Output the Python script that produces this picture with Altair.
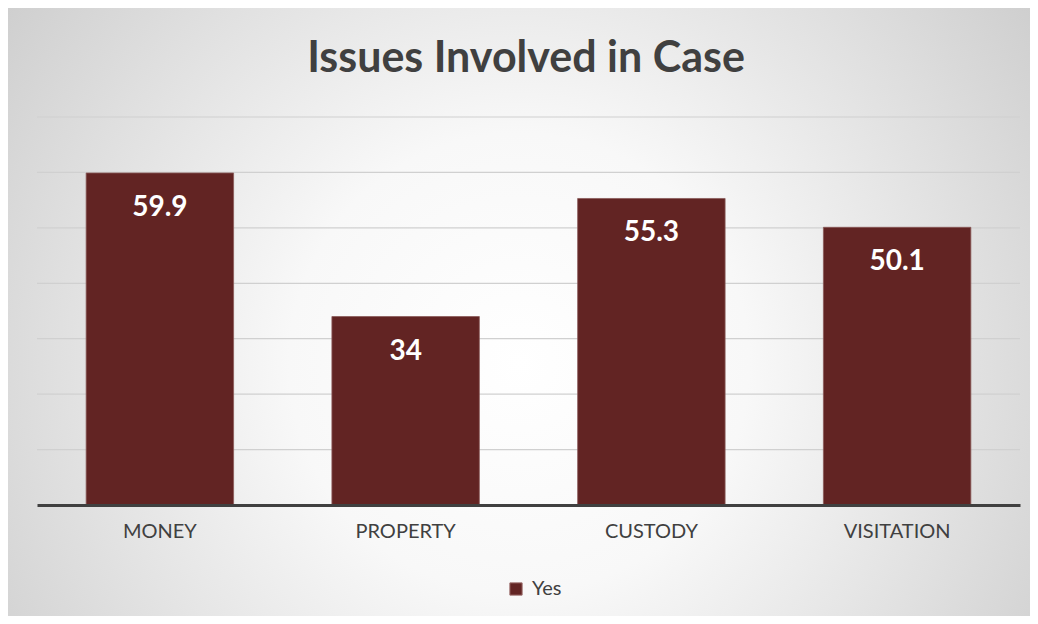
import altair as alt
import pandas as pd

title_text = ["Issues Involved in Case"]
categories = ["MONEY", "PROPERTY", "CUSTODY", "VISITATION"]
values = [59.9, 34, 55.3, 50.1]
series = ["Yes", "Yes", "Yes", "Yes"]
grid_values = [10, 20, 30, 40, 50, 60, 70]

W, H = 983, 388
PL, PT, PR, PB = 29, 109, 10, 111

df = pd.DataFrame({"cat": categories, "val": values, "series": series})
gdf = pd.DataFrame({"g": grid_values})
tdf = pd.DataFrame({"t": title_text})

bar_color = "#622423"
text_gray = "#404040"

bg = alt.Chart(pd.DataFrame({"a": [0]})).mark_rect(
    color=alt.RadialGradient(
        gradient="radial",
        stops=[
            alt.GradientStop(offset=0, color="#ffffff"),
            alt.GradientStop(offset=0.3, color="#f8f8f8"),
            alt.GradientStop(offset=1, color="#c0c0c0"),
        ],
        x1=0.5, y1=0.55, r1=0, x2=0.5, y2=0.55, r2=0.75,
    )
).encode(
    x=alt.value(-PL), x2=alt.value(W + PR),
    y=alt.value(-PT), y2=alt.value(H + PB),
)

title = alt.Chart(tdf).mark_text(
    font="Lato", fontWeight="bold", fontSize=43, color=text_gray,
    align="center", baseline="alphabetic",
).encode(
    text="t:N",
    x=alt.value(489), y=alt.value(-45),
)

yscale = alt.Scale(domain=[0, 70], nice=False, zero=True)

grid = alt.Chart(gdf).mark_rule(color="#d0d0d0", strokeWidth=1.2).encode(
    y=alt.Y("g:Q", scale=yscale, axis=None),
    x=alt.value(0), x2=alt.value(W),
)

xenc = alt.X(
    "cat:N", sort=categories,
    scale=alt.Scale(paddingInner=0.4, paddingOuter=0.2),
    axis=alt.Axis(
        title=None, labelAngle=0, ticks=False, grid=False,
        domainColor=text_gray, domainWidth=3, zindex=1,
        labelFont="Lato", labelFontSize=20, labelColor=text_gray,
        labelPadding=16,
    ),
)

bars = alt.Chart(df).mark_bar(stroke="#8a5a59", strokeWidth=0.8).encode(
    x=xenc,
    y=alt.Y("val:Q", scale=yscale, axis=None),
    color=alt.Color(
        "series:N",
        scale=alt.Scale(range=[bar_color]),
        legend=alt.Legend(
            title=None, orient="none", legendX=469, legendY=462,
            symbolType="square", symbolSize=150,
            symbolStrokeColor="#9a6a69", symbolStrokeWidth=1,
            labelFont="Lato", labelFontSize=20, labelColor=text_gray,
            labelOffset=6,
        ),
    ),
)

labels = alt.Chart(df).mark_text(
    dy=35, baseline="middle", align="center", color="white",
    font="Lato", fontWeight="bold", fontSize=28,
).encode(
    x=alt.X("cat:N", sort=categories),
    y=alt.Y("val:Q", scale=yscale),
    text=alt.Text("val:Q"),
)

chart = alt.layer(bg, title, grid, bars, labels).properties(
    width=W, height=H,
    autosize=alt.AutoSizeParams(type="none"),
    padding={"left": PL, "top": PT, "right": PR, "bottom": PB},
).configure_view(stroke=None)

chart.save("out.html", embed_options={"renderer": "svg", "actions": False})
